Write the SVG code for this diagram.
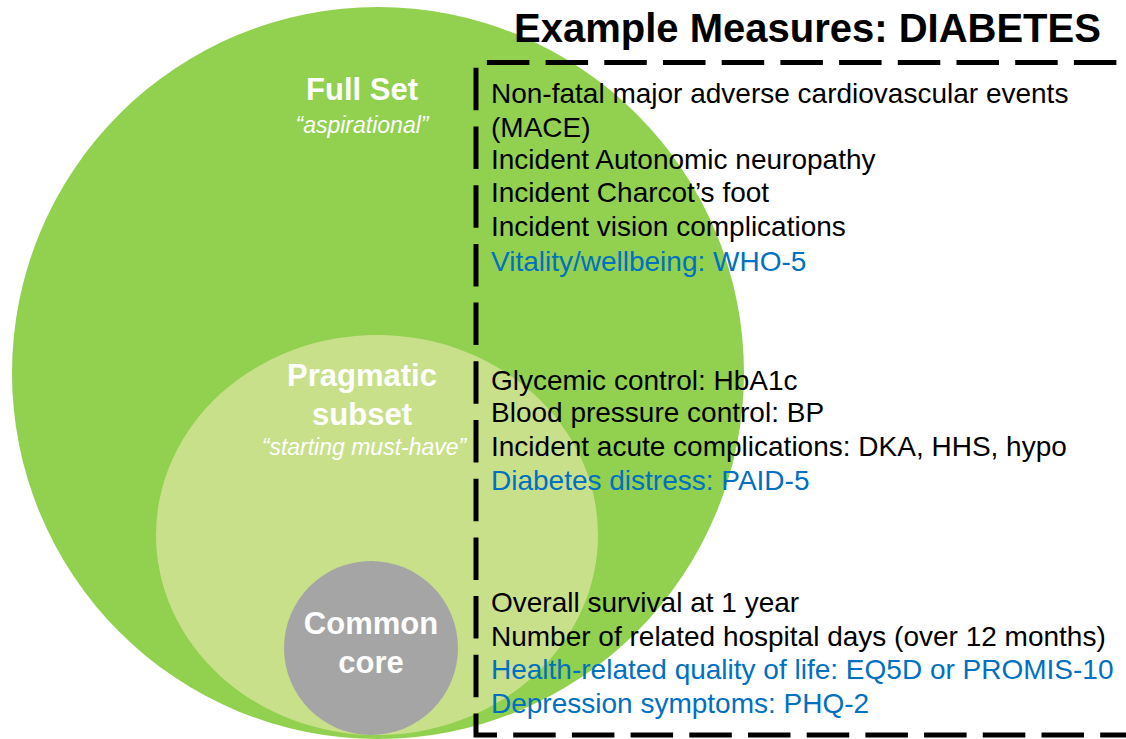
<svg xmlns="http://www.w3.org/2000/svg" width="1126" height="739" viewBox="0 0 1126 739">
<style>
.lbl{font-family:"Liberation Sans",Arial,sans-serif;font-weight:bold;font-size:31px;fill:#ffffff;text-anchor:middle}
.sub{font-family:"Liberation Sans",Arial,sans-serif;font-style:italic;font-size:23px;fill:#ffffff;text-anchor:middle}
.item{font-family:"Liberation Sans",Arial,sans-serif;font-size:28px;fill:#000000}
.blue{fill:#0070C0}
.title{font-family:"Liberation Sans",Arial,sans-serif;font-weight:bold;font-size:40px;fill:#000000}
.dash{fill:none;stroke:#000000;stroke-width:5;stroke-dasharray:42.5 16.2}
</style>
<rect width="1126" height="739" fill="#ffffff"/>
<g id="full-set">
<circle cx="378" cy="373" r="366" fill="#92D050"/>
<text class="lbl" x="362" y="100">Full Set</text>
<text class="sub" x="362" y="133">“aspirational”</text>
</g>
<g id="pragmatic-subset">
<ellipse cx="377" cy="535" rx="221" ry="200" fill="#C9E08B"/>
<text class="lbl" x="362" y="386">Pragmatic</text>
<text class="lbl" x="362" y="425">subset</text>
<text class="sub" x="364" y="455">“starting must-have”</text>
</g>
<g id="common-core">
<circle cx="371" cy="648" r="87" fill="#A5A5A5"/>
<text class="lbl" x="371" y="634">Common</text>
<text class="lbl" x="371" y="673">core</text>
</g>
<g id="measures-box">
<path class="dash" d="M1130,735 H476 V62.5 H1130" stroke-dashoffset="12.7"/>
<text class="title" x="514" y="42">Example Measures: DIABETES</text>
</g>
<g id="full-set-measures">
<text class="item" x="491" y="103">Non-fatal major adverse cardiovascular events</text>
<text class="item" x="491" y="137">(MACE)</text>
<text class="item" x="491" y="169">Incident Autonomic neuropathy</text>
<text class="item" x="491" y="202">Incident Charcot’s foot</text>
<text class="item" x="491" y="236">Incident vision complications</text>
<text class="item blue" x="491" y="271">Vitality/wellbeing: WHO-5</text>
</g>
<g id="pragmatic-measures">
<text class="item" x="491" y="390">Glycemic control: HbA1c</text>
<text class="item" x="491" y="422">Blood pressure control: BP</text>
<text class="item" x="491" y="456">Incident acute complications: DKA, HHS, hypo</text>
<text class="item blue" x="491" y="490">Diabetes distress: PAID-5</text>
</g>
<g id="core-measures">
<text class="item" x="491" y="612">Overall survival at 1 year</text>
<text class="item" x="491" y="646">Number of related hospital days (over 12 months)</text>
<text class="item blue" x="491" y="679">Health-related quality of life: EQ5D or PROMIS-10</text>
<text class="item blue" x="491" y="713">Depression symptoms: PHQ-2</text>
</g>
<g id="connectors"></g>
</svg>
